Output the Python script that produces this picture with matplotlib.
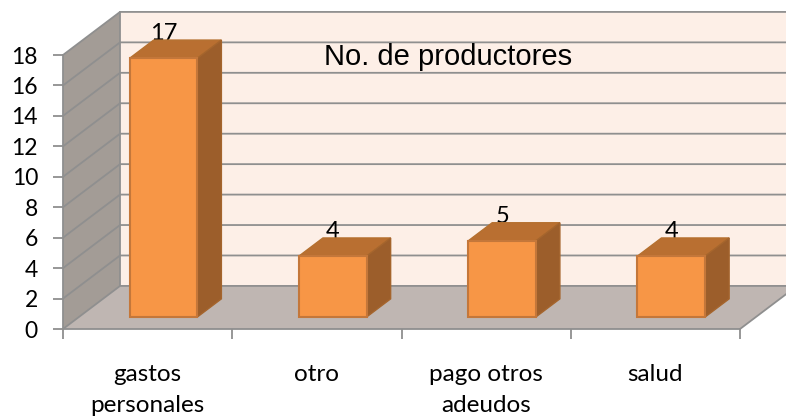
import matplotlib
matplotlib.use("Agg")
import matplotlib.pyplot as plt
from matplotlib.patches import Polygon

categories = ["gastos\npersonales", "otro", "pago otros\nadeudos", "salud"]
productores = [17, 4, 5, 4]
valueTicks = list(range(0, 19, 2))
chartTitle = "No. de productores"

GRID = "#8f8f8f"
DEPTH_X = 0.337   # how far the back wall is shifted, in category units
DEPTH_Y = 2.83    # same, in value units
BAR_WIDTH = 0.4


def project(x, y, depth):
    return (x + depth * DEPTH_X, y + depth * DEPTH_Y)


def addFace(ax, corners, face, edge, zorder, lw=1.0):
    ax.add_patch(Polygon(corners, closed=True, facecolor=face, edgecolor=edge,
                         linewidth=lw, zorder=zorder, clip_on=False, joinstyle="miter"))


def drawWalls(ax, noOfCategories, top):
    n = noOfCategories
    addFace(ax, [project(0, 0, 1), project(n, 0, 1), project(n, top, 1), project(0, top, 1)],
            "#fdefe7", "none", 1)
    addFace(ax, [project(0, 0, 0), project(0, 0, 1), project(0, top, 1), project(0, top, 0)],
            "#a39c96", "none", 1)
    addFace(ax, [project(0, 0, 0), project(n, 0, 0), project(n, 0, 1), project(0, 0, 1)],
            "#bfb6b2", "none", 2)

    for tick in valueTicks:
        x0, y0 = project(0, tick, 0)
        x1, y1 = project(0, tick, 1)
        x2, y2 = project(n, tick, 1)
        ax.plot([x0, x1, x2], [y0, y1, y2], color=GRID, lw=1.3, zorder=3 if tick == 0 else 1.5,
                clip_on=False, solid_joinstyle="miter")

    x1, y1 = project(0, 0, 1)
    x2, y2 = project(0, top, 1)
    ax.plot([x1, x2], [y1, y2], color=GRID, lw=1.3, zorder=1.5, clip_on=False)
    x3, y3 = project(n, 0, 1)
    ax.plot([n, x3], [0, y3], color=GRID, lw=1.3, zorder=3, clip_on=False)


def drawBar(ax, position, value):
    left = position + 0.5 - BAR_WIDTH / 2
    right = position + 0.5 + BAR_WIDTH / 2
    front = 0.28
    back = 0.70
    zorder = 6
    addFace(ax, [project(left, value, front), project(right, value, front),
                 project(right, value, back), project(left, value, back)],
            "#b96f31", "#b5702f", zorder)
    addFace(ax, [project(right, 0, front), project(right, 0, back),
                 project(right, value, back), project(right, value, front)],
            "#9c5e2b", "#a5652d", zorder)
    addFace(ax, [project(left, 0, front), project(right, 0, front),
                 project(right, value, front), project(left, value, front)],
            "#f79646", "#c4773a", zorder + 1, lw=1.5)

    # label sits behind the bar top, centred on the front face
    labelX = project(position + 0.5, value, front)[0]
    labelY = project(position + 0.5, value, back)[1]
    ax.text(labelX, labelY, str(value), ha="center", va="baseline", fontsize=17,
            family="Lato", color="black", zorder=5)


def plotProductores():
    fig = plt.figure(figsize=(7.86, 4.17), dpi=100)
    ax = fig.add_axes([63 / 786, (417 - 329) / 417, 677 / 786, 274 / 417])
    ax.set_xlim(0, len(categories))
    ax.set_ylim(0, 18)
    ax.patch.set_visible(False)

    for side in ["top", "right"]:
        ax.spines[side].set_visible(False)
    for side in ["left", "bottom"]:
        ax.spines[side].set_color(GRID)
        ax.spines[side].set_linewidth(1.3)
        ax.spines[side].set_zorder(4)

    drawWalls(ax, len(categories), 18)
    for position, value in enumerate(productores):
        drawBar(ax, position, value)

    ax.set_yticks(valueTicks)
    ax.set_yticklabels([str(t) for t in valueTicks], fontsize=16.5, family="Lato")
    ax.set_xticks(range(len(categories) + 1))
    ax.set_xticklabels([])
    ax.set_xticks([i + 0.5 for i in range(len(categories))], minor=True)
    ax.set_xticklabels(categories, minor=True, fontsize=17.5, family="Lato", linespacing=1.6)
    ax.tick_params(axis="x", which="minor", length=0, pad=25)
    ax.tick_params(axis="both", which="major", color=GRID, width=1.3, length=7)
    ax.tick_params(axis="y", pad=11)

    ax.text(448 / 786, (417 - 57) / 417, chartTitle, transform=fig.transFigure,
            ha="center", va="center", fontsize=21, family="Liberation Sans", zorder=8)

    fig.savefig("out.png", dpi=100)


plotProductores()
